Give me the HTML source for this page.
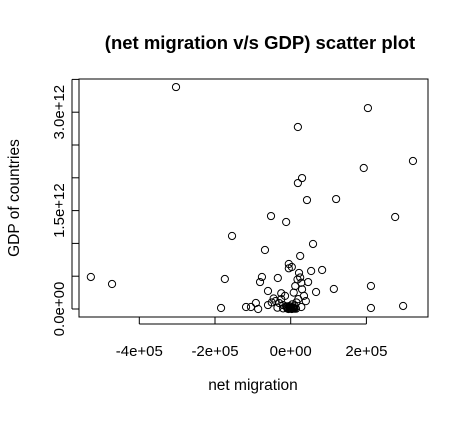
<!DOCTYPE html>
<html><head><meta charset="utf-8"><style>
body{margin:0;background:#fff}
svg text{font-family:"Liberation Sans",sans-serif;fill:#000}
</style></head><body>
<svg id="chart" width="466" height="416" xmlns="http://www.w3.org/2000/svg">
<text x="260" y="49" text-anchor="middle" font-size="18.5" font-weight="bold">(net migration v/s GDP) scatter plot</text>
<text x="253" y="390" text-anchor="middle" font-size="15.5">net migration</text>
<text transform="translate(19,198) rotate(-90)" text-anchor="middle" font-size="15.5">GDP of countries</text>
<rect x="79" y="79" width="349" height="238" fill="none" stroke="#000" stroke-width="1"/>
<g id="axes"></g>
<g id="points"></g>
</svg>
<script>
// net migration in thousands, GDP in billions
const xTicks=[-400,-200,0,200];
const xTickLabels=["-4e+05","-2e+05","0e+00","2e+05"];
const yTicks=[0,500,1000,1500,2000,2500,3000,3500];
const yTickLabels={0:"0.0e+00",1500:"1.5e+12",3000:"3.0e+12"};
const netMigration=[-528,-472,-303,-155,-174,-184,-52,-12,-68,19,19,30,43,120,204,193,323,276,59,25,-5,54,83,-76,-81,-34,46,114,212,-60,67,212,297,-118,-92,-86,-105,
-40,-30,-20,-10,0,5,10,15,20,-15,-25,8,12,18,22,-5,3,25,28,30,-8,-3,2,6,-12,-50,-60,35,40,-20,14,-35,28,10,-45,-25,4,-6,-2,1,3,7,-4,9,-9];
const gdp=[488,381,3383,1113,457,15,1417,1326,899,2774,1920,1996,1661,1676,3063,2149,2256,1402,991,808,686,579,594,488,411,472,411,305,351,274,259,15,46,30,91,0,30,
120,90,60,30,10,20,50,100,150,200,150,250,350,450,550,620,640,480,400,300,15,5,8,12,40,100,60,200,120,10,5,20,30,5,160,240,70,0,20,35,0,25,45,15,8];
const X=v=>290.7+v/200*75.7;
const Y=v=>309-v/1000*65.6;
const ns="http://www.w3.org/2000/svg";
const ax=document.getElementById('axes');
function mk(t,a,p){const e=document.createElementNS(ns,t);for(const k in a)e.setAttribute(k,a[k]);p.appendChild(e);return e;}
xTicks.forEach((v,i)=>{
 const l=mk('line',{x1:X(v),x2:X(v),y1:317,y2:324,stroke:'#000'},ax);
 
 
 const t=mk('text',{x:X(v),y:356,'text-anchor':'middle','font-size':'15'},ax);
 
 
 t.textContent=xTickLabels[i];
});
mk('line',{x1:X(-400),x2:X(200),y1:324,y2:324,stroke:'#000'},ax);
yTicks.forEach(v=>{
 const l=mk('line',{x1:72,x2:79,y1:Y(v),y2:Y(v),stroke:'#000'},ax);
 
 
 if(yTickLabels[v]){
  const t=mk('text',{transform:`translate(64,${Y(v)}) rotate(-90)`,'text-anchor':'middle','font-size':'15'},ax);
  
  
  t.textContent=yTickLabels[v];
 }
});
mk('line',{x1:72,x2:72,y1:Y(0),y2:Y(3500),stroke:'#000'},ax);
const pg=document.getElementById('points');
netMigration.forEach((v,i)=>{
 const c=mk('circle',{cx:X(v),cy:Y(gdp[i]),r:3.6,fill:'none',stroke:'#000','stroke-width':'1'},pg);
 
 
});
</script>
</body></html>
